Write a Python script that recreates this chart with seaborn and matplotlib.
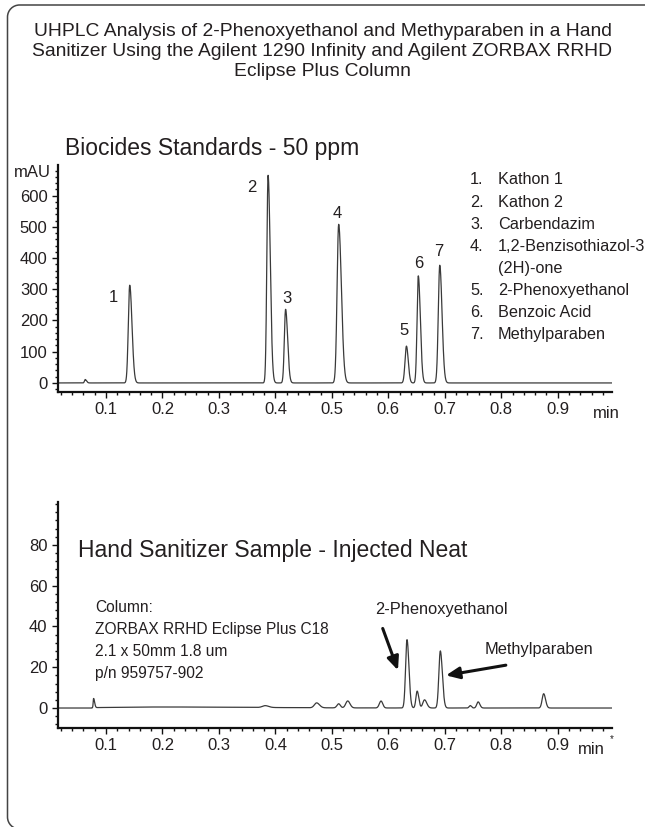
import numpy as np
import pandas as pd
import matplotlib
matplotlib.use("Agg")
import matplotlib.pyplot as plt
import seaborn as sns
from matplotlib.patches import PathPatch
from matplotlib.path import Path
from matplotlib.ticker import MultipleLocator

# ---------------- data ----------------
title_lines = ["UHPLC Analysis of 2-Phenoxyethanol and Methyparaben in a Hand",
               "Sanitizer Using the Agilent 1290 Infinity and Agilent ZORBAX RRHD",
               "Eclipse Plus Column"]

# Standards chromatogram (peak retention time, height mAU, left/right sigma)
std_rt = [0.063, 0.142, 0.387, 0.418, 0.512, 0.632, 0.653, 0.691]
std_height = [11, 313, 665, 236, 508, 118, 343, 377]
std_sig_l = [0.0012, 0.0025, 0.0022, 0.0022, 0.0028, 0.0025, 0.0022, 0.0026]
std_sig_r = [0.0025, 0.0040, 0.0038, 0.0036, 0.0048, 0.0032, 0.0036, 0.0040]
std_labels = ["", "1", "2", "3", "4", "5", "6", "7"]

compounds = ["Kathon 1", "Kathon 2", "Carbendazim", "1,2-Benzisothiazol-3",
             "(2H)-one", "2-Phenoxyethanol", "Benzoic Acid", "Methylparaben"]
compound_nums = ["1.", "2.", "3.", "4.", "", "5.", "6.", "7."]

# Hand sanitizer chromatogram
smp_rt = [0.078, 0.20, 0.382, 0.473, 0.512, 0.528, 0.587, 0.633, 0.651, 0.664,
          0.692, 0.745, 0.759, 0.875]
smp_height = [4.5, 0.5, 0.9, 2.4, 2.0, 3.4, 3.4, 33.5, 8.3, 4.0, 28.0, 1.2, 3.0, 7.0]
smp_sig_l = [0.0007, 0.09, 0.005, 0.0040, 0.0030, 0.0035, 0.0030, 0.0025, 0.0022,
             0.0030, 0.0026, 0.0020, 0.0025, 0.0027]
smp_sig_r = [0.0018, 0.16, 0.006, 0.0050, 0.0030, 0.0040, 0.0030, 0.0034, 0.0028,
             0.0040, 0.0036, 0.0022, 0.0030, 0.0033]

column_info = ["Column:", "ZORBAX RRHD Eclipse Plus C18", "2.1 x 50mm 1.8 um",
               "p/n 959757-902"]

x_min, x_max = 0.015, 0.996
time = np.linspace(x_min, x_max, 6000)


def trace(t, rts, hs, sl, sr, start=None):
    y = np.zeros_like(t)
    for r, h, a, b in zip(rts, hs, sl, sr):
        s = np.where(t < r, a, b)
        y += h * np.exp(-0.5 * ((t - r) / s) ** 2)
    if start is not None:
        y = np.where(t < start, 0.0, y)
    return y


std_df = pd.DataFrame({"time": time,
                       "signal": trace(time, std_rt, std_height, std_sig_l, std_sig_r)})
smp_df = pd.DataFrame({"time": time,
                       "signal": trace(time, smp_rt, smp_height, smp_sig_l, smp_sig_r,
                                       start=0.0755)})

# ---------------- style ----------------
sns.set_style("ticks")
plt.rcParams["font.family"] = ["Liberation Sans", "DejaVu Sans"]
TXT = "#231f20"
LINE = "#3a3a3a"

fig = plt.figure(figsize=(6.45, 8.27), dpi=100)

# open frame: top edge from the right border, rounded top-left corner,
# left edge, rounded bottom-left corner running off the bottom
L, T, B, R, r = 7.5, 822.0, -2.0, 645.0, 12.0
k = 0.5523 * r
verts = [(R, T), (L + r, T), (L + r - k, T), (L, T - r + k), (L, T - r),
         (L, B + r), (L, B + r - k), (L + r - k, B), (L + r, B)]
codes = [Path.MOVETO, Path.LINETO, Path.CURVE4, Path.CURVE4, Path.CURVE4,
         Path.LINETO, Path.CURVE4, Path.CURVE4, Path.CURVE4]
frame = PathPatch(Path(verts, codes), transform=None, fill=False,
                  edgecolor="#444444", linewidth=1.1, figure=fig)
fig.patches.append(frame)

for i, line in enumerate(title_lines):
    fig.text(0.5, 1 - (32 + 20 * i) / 827, line, ha="center", va="center",
             fontsize=13.9, color=TXT)


def style_axes(ax, ymin, ymax, major, minor):
    ax.set_xlim(x_min, x_max)
    ax.set_ylim(ymin, ymax)
    for s in ["top", "right"]:
        ax.spines[s].set_visible(False)
    for s in ["left", "bottom"]:
        ax.spines[s].set_linewidth(1.6)
        ax.spines[s].set_color("#111111")
    ax.xaxis.set_major_locator(MultipleLocator(0.1))
    ax.xaxis.set_minor_locator(MultipleLocator(0.02))
    ax.yaxis.set_major_locator(MultipleLocator(major))
    ax.yaxis.set_minor_locator(MultipleLocator(minor))
    ax.tick_params(which="major", length=4.5, width=1.0, color="#111111",
                   labelsize=12, labelcolor=TXT, pad=3)
    ax.tick_params(which="minor", length=2.2, width=1.0, color="#111111")
    ax.set_xticks([0.1, 0.2, 0.3, 0.4, 0.5, 0.6, 0.7, 0.8, 0.9])
    ax.set_xticklabels(["0.1", "0.2", "0.3", "0.4", "0.5", "0.6", "0.7", "0.8", "0.9"])
    ax.set_xlabel("")
    ax.set_ylabel("")
    ax.patch.set_alpha(0)


# ---------------- top panel ----------------
ax1 = fig.add_axes([58 / 645, 1 - 392 / 827, (612 - 58) / 645, (392 - 165) / 827])
sns.lineplot(data=std_df, x="time", y="signal", ax=ax1, color=LINE, linewidth=0.9,
             estimator=None, sort=False)
style_axes(ax1, -29, 698, 100, 20)
ax1.set_yticks([0, 100, 200, 300, 400, 500, 600])
ax1.text(-0.012, 0.965, "mAU", transform=ax1.transAxes, ha="right", va="center",
         fontsize=12, color=TXT)
ax1.text(0.99, -0.095, "min", transform=ax1.transAxes, ha="center", va="center",
         fontsize=12, color=TXT)
ax1.text(65 / 645, 1 - 148 / 827, "Biocides Standards - 50 ppm", transform=fig.transFigure,
         ha="left", va="center", fontsize=16.5, color=TXT)

label_offsets = [(0, 0), (-12, -9), (-12, -9), (1, 8), (-1, 8), (-2, 11), (0, 9), (-1, 10)]
for rt, h, lab, off in zip(std_rt, std_height, std_labels, label_offsets):
    if lab:
        ax1.annotate(lab, (rt, h), xytext=off, textcoords="offset points",
                     ha="center", va="center", fontsize=12, color=TXT)

for i, (num, name) in enumerate(zip(compound_nums, compounds)):
    y = 1 - (180 + 22.1 * i) / 827
    if num:
        fig.text(470 / 645, y, num, ha="left", va="center", fontsize=11.7, color=TXT)
    fig.text(498 / 645, y, name, ha="left", va="center", fontsize=11.7, color=TXT)

# ---------------- bottom panel ----------------
ax2 = fig.add_axes([58 / 645, 1 - 728 / 827, (612 - 58) / 645, (728 - 502) / 827])
sns.lineplot(data=smp_df, x="time", y="signal", ax=ax2, color=LINE, linewidth=0.9,
             estimator=None, sort=False)
style_axes(ax2, -9.8, 101, 20, 4)
ax2.set_yticks([0, 20, 40, 60, 80])
ax2.text(0.962, -0.095, "min", transform=ax2.transAxes, ha="center", va="center",
         fontsize=12, color=TXT)
ax2.text(1.0, -0.05, "*", transform=ax2.transAxes, ha="center", va="center",
         fontsize=7, color=TXT)
ax2.text(78 / 645, 1 - 550 / 827, "Hand Sanitizer Sample - Injected Neat",
         transform=fig.transFigure, ha="left", va="center", fontsize=16.5, color=TXT)

for i, line in enumerate(column_info):
    fig.text(95 / 645, 1 - (607 + 22.2 * i) / 827, line, ha="left", va="center",
             fontsize=11.2, color=TXT)

ax2.annotate("", xy=(0.617, 18.5), xytext=(0.590, 39),
             arrowprops=dict(arrowstyle="-|>,head_length=0.8,head_width=0.35",
                             color="#111111", lw=2.2, shrinkA=0, shrinkB=0))
ax2.text(0.694, 48.5, "2-Phenoxyethanol", ha="center", va="center", fontsize=11.8,
         color=TXT)
ax2.annotate("", xy=(0.702, 16), xytext=(0.808, 21),
             arrowprops=dict(arrowstyle="-|>,head_length=0.8,head_width=0.35",
                             color="#111111", lw=2.2, shrinkA=0, shrinkB=0))
ax2.text(0.866, 28.5, "Methylparaben", ha="center", va="center", fontsize=11.8,
         color=TXT)

fig.savefig("out.png", dpi=100)
